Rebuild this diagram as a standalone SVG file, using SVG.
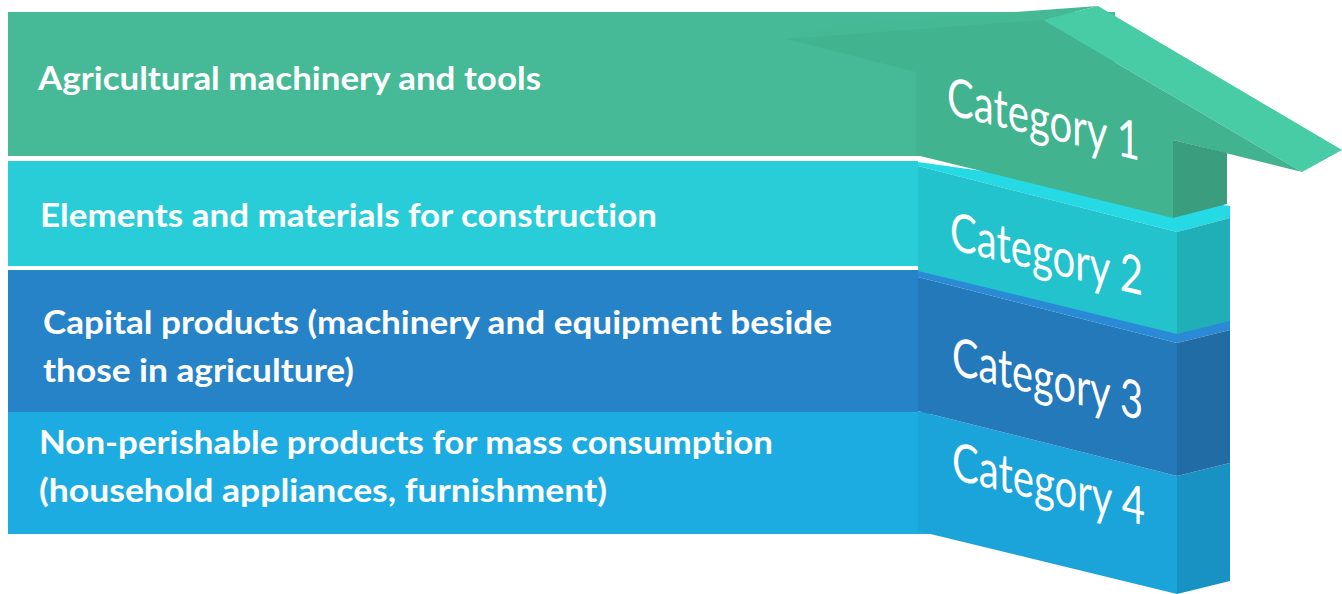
<svg xmlns="http://www.w3.org/2000/svg" width="1342" height="594" viewBox="0 0 1342 594">
<style>
.t{font-family:Lato,"Open Sans","Liberation Sans",sans-serif;font-weight:700;font-size:32px;fill:#fff;font-variant-ligatures:none;font-feature-settings:"liga" 0,"clig" 0,"dlig" 0}
.c{font-family:Lato,"Open Sans","Liberation Sans",sans-serif;font-weight:400;font-size:40px;fill:#fff;font-variant-ligatures:none;font-feature-settings:"liga" 0,"clig" 0}
</style>
<rect width="1342" height="594" fill="#fff"/>
<g id="band4"><rect x="8" y="412" width="922" height="122" fill="#1DACE2"/></g>
<g id="band3"><rect x="8" y="270" width="910" height="142" fill="#2683C8"/></g>
<g id="band2"><rect x="8" y="161" width="910" height="105" fill="#29CDD8"/></g>
<g id="band1"><rect x="8" y="12" width="1107" height="144" fill="#46BA96"/></g>

<g id="category4">
<polygon points="918,411 1177,476 1177,594 918,531" fill="#1AA4D9"/>
<polygon points="1177,476 1230,463 1230,581 1177,594" fill="#1892C2"/>
<text class="c" transform="translate(952,479) skewY(13.6) scale(1,1.32)" textLength="193" lengthAdjust="spacingAndGlyphs">Category 4</text>
</g>
<g id="category3">
<polygon points="918,270 1230,319 1230,330 1177,343 918,277" fill="#2A8AD5"/>
<polygon points="918,277 1177,343 1177,476 918,411" fill="#2479BB"/>
<polygon points="1177,343 1230,330 1230,463 1177,476" fill="#216CA5"/>
<text class="c" transform="translate(952,374) skewY(13.6) scale(1,1.32)" textLength="191" lengthAdjust="spacingAndGlyphs">Category 3</text>
</g>
<g id="category2">
<polygon points="918,162 1230,206 1230,218 1177,232 918,166" fill="#25D9E5"/>
<polygon points="918,166 1177,232 1177,334 918,271" fill="#23C3CD"/>
<polygon points="1177,232 1230,218 1230,321 1177,334" fill="#20AFB6"/>
<text class="c" transform="translate(950,249) skewY(13.6) scale(1,1.32)" textLength="193" lengthAdjust="spacingAndGlyphs">Category 2</text>
</g>
<g id="category1">
<polygon points="786,39 838,25 1098,6 1043,20" fill="#45B994"/>
<polygon points="1098,6 1342,150 1302,172 1043,20" fill="#48CCA5"/>
<polygon points="786,39 1043,20 1302,172 1173,140 1173,218 916,155 916,72" fill="#42B38F"/>
<polygon points="1173,140 1227,153 1227,204 1173,218" fill="#3A9D7D"/>
<text class="c" transform="translate(947,114) skewY(13.6) scale(1,1.32)" textLength="193" lengthAdjust="spacingAndGlyphs">Category 1</text>
</g>

<g id="labels">
<text class="t" x="38" y="90" textLength="503" lengthAdjust="spacingAndGlyphs">Agricultural machinery and tools</text>
<text class="t" x="40" y="227" textLength="617" lengthAdjust="spacingAndGlyphs">Elements and materials for construction</text>
<text class="t" x="43" y="334" textLength="789" lengthAdjust="spacingAndGlyphs">Capital products (machinery and equipment beside</text>
<text class="t" x="43" y="382" textLength="311" lengthAdjust="spacingAndGlyphs">those in agriculture)</text>
<text class="t" x="39" y="454" textLength="734" lengthAdjust="spacingAndGlyphs">Non-perishable products for mass consumption</text>
<text class="t" x="39" y="502" textLength="568" lengthAdjust="spacingAndGlyphs">(household appliances, furnishment)</text>
</g>
<g id="connectors"/>
</svg>
